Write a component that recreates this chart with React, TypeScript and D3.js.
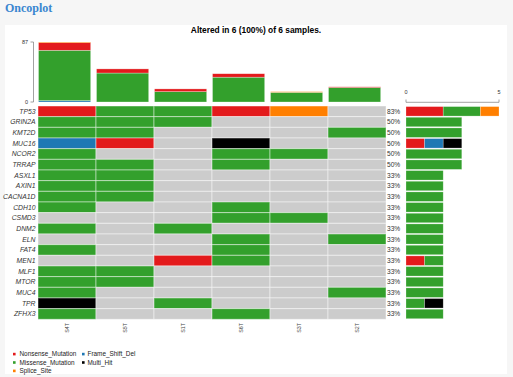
import React from "react";
import * as d3 from "d3";

const samples = ["S4T", "S5T", "S1T", "S6T", "S3T", "S2T"];
const genes = ["TP53", "GRIN2A", "KMT2D", "MUC16", "NCOR2", "TRRAP", "ASXL1", "AXIN1", "CACNA1D", "CDH10", "CSMD3", "DNM2", "ELN", "FAT4", "MEN1", "MLF1", "MTOR", "MUC4", "TPR", "ZFHX3"];

const variantCodes = ["N", "M", "F", "S", "H"];
const variantNames = ["Nonsense_Mutation", "Missense_Mutation", "Frame_Shift_Del", "Splice_Site", "Multi_Hit"];
const variantColors = ["#e31a1c", "#33a02c", "#1f78b4", "#ff7f00", "#000000"];

// per gene, per sample (S4T, S5T, S1T, S6T, S3T, S2T)
const geneCalls = [
  ["N", "M", "M", "N", "S", ""],
  ["M", "M", "M", "", "", ""],
  ["M", "M", "", "", "", "M"],
  ["F", "N", "", "H", "", ""],
  ["M", "", "", "M", "M", ""],
  ["M", "M", "", "M", "", ""],
  ["M", "M", "", "", "", ""],
  ["M", "M", "", "", "", ""],
  ["M", "M", "", "", "", ""],
  ["M", "", "", "M", "", ""],
  ["", "", "", "M", "M", ""],
  ["M", "", "M", "", "", ""],
  ["", "", "", "M", "", "M"],
  ["M", "", "", "M", "", ""],
  ["", "", "N", "M", "", ""],
  ["M", "M", "", "", "", ""],
  ["M", "M", "", "", "", ""],
  ["M", "", "", "", "", "M"],
  ["H", "", "M", "", "", ""],
  ["M", "", "", "M", "", ""],
];

// mutation burden per sample, by variant class
const sampleFrameShift = [2, 0, 0, 0, 0, 0];
const sampleMultiHit = [0, 0, 0, 0, 0, 0];
const sampleMissense = [73, 42, 15, 36, 14, 21];
const sampleNonsense = [11, 6, 4, 5, 0, 1];
const sampleSplice = [1, 0, 0, 0, 1, 0];

const topTicks = [0, 87];
const sideTicks = [0, 5];
const totalSamples = 6;

const legendCol1 = ["Nonsense_Mutation", "Missense_Mutation", "Splice_Site"];
const legendCol2 = ["Frame_Shift_Del", "Multi_Hit"];

const W = 513;
const H = 377;
const sans = "'Liberation Sans', Arial, Helvetica, sans-serif";

export default function App() {
  const x = d3.scaleBand<string>().domain(samples).range([38, 386]);
  const y = d3.scaleBand<string>().domain(genes).range([106, 319.3]);
  const yTop = d3.scaleLinear().domain([0, 87]).range([102, 42]);
  const xSide = d3.scaleLinear().domain([0, 5]).range([406, 499]);
  const colorOf = (code: string) => variantColors[variantCodes.indexOf(code)];
  const colorByName = (name: string) => variantColors[variantNames.indexOf(name)];

  // stacked top bars
  const stackRows = samples.map((s, i) => ({
    sample: s,
    F: sampleFrameShift[i],
    H: sampleMultiHit[i],
    M: sampleMissense[i],
    N: sampleNonsense[i],
    S: sampleSplice[i],
  }));
  const stackKeys = ["F", "H", "M", "N", "S"];
  const stacked = d3.stack<any>().keys(stackKeys)(stackRows);

  const barW = x.bandwidth() * 0.9;

  return (
    <svg width={W} height={H} style={{ position: "absolute", left: 0, top: 0, display: "block" }}>
      <rect x={0} y={0} width={W} height={H} fill="#f6f6f6" />
      <rect x={5} y={25} width={502} height={349} fill="#ffffff" />
      <text x={5} y={12} fill="#3a86d0" fontFamily="'Liberation Serif', 'DejaVu Serif', serif" fontWeight="bold" fontSize={12}>Oncoplot</text>

      <text x={256} y={32.5} textAnchor="middle" fontFamily={sans} fontWeight="bold" fontSize={8.4} fill="#000">
        Altered in 6 (100%) of 6 samples.
      </text>

      {/* top axis */}
      <g stroke="#8a8a8a" strokeWidth={0.8} fill="none">
        <line x1={33.5} x2={33.5} y1={yTop(87)} y2={yTop(0)} />
        {topTicks.map((t) => (
          <line key={t} x1={30.5} x2={33.5} y1={yTop(t)} y2={yTop(t)} />
        ))}
      </g>
      {topTicks.map((t) => (
        <text key={t} x={28} y={yTop(t)} dy="0.35em" textAnchor="end" fontFamily={sans} fontSize={5.5} fill="#333">{t}</text>
      ))}

      {/* top stacked bars */}
      {stacked.map((layer) => (
        <g key={layer.key} fill={colorOf(layer.key)}>
          {layer.map((d, i) =>
            d[1] - d[0] > 0 ? (
              <rect
                key={i}
                x={(x(samples[i]) as number) + 0.5}
                width={barW}
                y={yTop(d[1])}
                height={yTop(d[0]) - yTop(d[1])}
                stroke="#ffffff"
                strokeOpacity={0.5}
                strokeWidth={0.6}
              />
            ) : null
          )}
        </g>
      ))}

      {/* oncoprint grid */}
      {genes.map((g, gi) =>
        samples.map((s, si) => {
          const c = geneCalls[gi][si];
          return (
            <rect
              key={g + s}
              x={x(s) as number}
              y={y(g) as number}
              width={x.bandwidth()}
              height={y.bandwidth()}
              fill={c ? colorOf(c) : "#cccccc"}
              stroke="#ffffff"
              strokeOpacity={0.45}
              strokeWidth={1}
            />
          );
        })
      )}

      {/* gene labels */}
      {genes.map((g) => (
        <text key={g} x={35.5} y={(y(g) as number) + y.bandwidth() / 2} dy="0.35em" textAnchor="end" fontFamily={sans} fontStyle="italic" fontSize={6.8} fill="#333">{g}</text>
      ))}

      {/* percentages */}
      {genes.map((g, gi) => {
        const n = geneCalls[gi].filter((c) => c !== "").length;
        return (
          <text key={g} x={387} y={(y(g) as number) + y.bandwidth() / 2} dy="0.35em" fontFamily={sans} fontSize={6.6} fill="#333">
            {Math.round((n / totalSamples) * 100) + "%"}
          </text>
        );
      })}

      {/* sample labels */}
      {samples.map((s) => {
        const cx = (x(s) as number) + x.bandwidth() / 2;
        return (
          <text key={s} transform={`translate(${cx + 1.8},323) rotate(-90)`} textAnchor="end" fontFamily={sans} fontSize={5.3} fill="#444">{s}</text>
        );
      })}

      {/* side axis */}
      <g stroke="#8a8a8a" strokeWidth={0.8} fill="none">
        <line x1={xSide(0)} x2={xSide(5)} y1={102.3} y2={102.3} />
        {sideTicks.map((t) => (
          <line key={t} x1={xSide(t)} x2={xSide(t)} y1={99.5} y2={102.3} />
        ))}
      </g>
      {sideTicks.map((t) => (
        <text key={t} x={xSide(t)} y={94} textAnchor="middle" fontFamily={sans} fontSize={5.5} fill="#333">{t}</text>
      ))}

      {/* side bars */}
      {genes.map((g, gi) => {
        let acc = 0;
        const yy = (y(g) as number) + 0.6;
        const hh = y.bandwidth() - 1.2;
        return (
          <g key={g}>
            {variantCodes.map((code) => {
              const cnt = geneCalls[gi].filter((c) => c === code).length;
              if (!cnt) return null;
              const x0 = xSide(acc);
              acc += cnt;
              return (
                <rect key={code} x={x0} y={yy} width={xSide(acc) - x0} height={hh} fill={colorOf(code)} stroke="#ffffff" strokeOpacity={0.4} strokeWidth={0.6} />
              );
            })}
          </g>
        );
      })}

      {/* legend */}
      {legendCol1.map((name, i) => (
        <g key={name}>
          <rect x={13} y={352.8 + i * 8.4} width={2.6} height={2.6} fill={colorByName(name)} />
          <text x={19.5} y={354.1 + i * 8.4} dy="0.35em" fontFamily={sans} fontSize={6.4} fill="#222">{name}</text>
        </g>
      ))}
      {legendCol2.map((name, i) => (
        <g key={name}>
          <rect x={82} y={352.8 + i * 8.4} width={2.6} height={2.6} fill={colorByName(name)} />
          <text x={87.5} y={354.1 + i * 8.4} dy="0.35em" fontFamily={sans} fontSize={6.4} fill="#222">{name}</text>
        </g>
      ))}
    </svg>
  );
}
